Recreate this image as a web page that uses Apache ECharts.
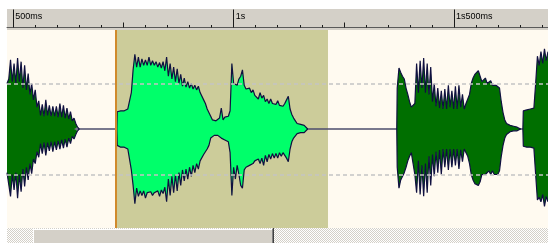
<!DOCTYPE html>
<html>
<head>
<meta charset="utf-8">
<script src="https://cdn.jsdelivr.net/npm/echarts@6/dist/echarts.min.js"></script>
<style>
  html, body { margin: 0; padding: 0; background: #ffffff; }
  #container { width: 548px; height: 243px; }
</style>
</head>
<body>
<div id="container"></div>
<script>
var dom = document.getElementById('container');
var myChart = echarts.init(dom, null, { renderer: 'canvas' });

// time window shown (ms)
const viewStart = 486;
const viewEnd = 1713;

// selection (ms)
const selStart = 733;
const selEnd = 1214;

// ruler
const majorTicks = [500, 1000, 1500];
const majorLabels = ['500ms', '1s', '1s500ms'];
const midTicks = [750, 1250];
const minorTicks = [550, 600, 650, 700, 800, 850, 900, 950, 1050, 1100, 1150, 1200,
  1300, 1350, 1400, 1450, 1550, 1600, 1650, 1700];

// -6 dB guide lines
const guideLevels = [0.5, -0.5];

// waveform envelope, segment A (before selection)
const segATimes = [486, 490, 494, 498, 502, 506, 510, 514, 518, 522, 526, 530, 534, 538, 542, 546,
  550, 554, 558, 562, 566, 570, 574, 578, 582, 586, 590, 594, 598, 602, 606, 610, 614, 618, 622,
  626, 630, 634, 638, 642, 646, 650];
const segAHigh = [0.50, 0.55, 0.76, 0.52, 0.72, 0.50, 0.78, 0.52, 0.74, 0.45, 0.70, 0.43, 0.61, 0.38,
  0.50, 0.32, 0.43, 0.24, 0.31, 0.15, 0.27, 0.14, 0.32, 0.15, 0.26, 0.14, 0.25, 0.14, 0.25, 0.13,
  0.28, 0.13, 0.26, 0.12, 0.23, 0.11, 0.19, 0.09, 0.12, 0.06, 0.02, 0];
const segALow = [-0.48, -0.50, -0.74, -0.50, -0.67, -0.48, -0.76, -0.50, -0.69, -0.44, -0.63, -0.42,
  -0.56, -0.38, -0.49, -0.33, -0.38, -0.25, -0.31, -0.16, -0.27, -0.15, -0.29, -0.15, -0.24, -0.14,
  -0.25, -0.14, -0.23, -0.13, -0.22, -0.12, -0.21, -0.11, -0.20, -0.10, -0.16, -0.08, -0.11, -0.06,
  -0.02, 0];

// segment B (selected)
const segBTimes = [735, 736, 740, 744, 748, 752, 756, 760, 764, 768, 772, 776, 780, 784, 788, 792,
  796, 800, 804, 808, 812, 816, 820, 824, 828, 832, 836, 840, 844, 848, 852, 856, 860, 864, 868,
  872, 876, 880, 884, 888, 892, 896, 900, 904, 908, 912, 916, 920, 924, 928, 932, 936, 940, 944,
  948, 952, 956, 960, 964, 968, 972, 976, 980, 984, 988, 992, 996, 1000, 1004, 1008, 1012, 1016,
  1020, 1024, 1028, 1032, 1036, 1040, 1044, 1048, 1052, 1056, 1060, 1064, 1068, 1072, 1076, 1080,
  1084, 1088, 1092, 1096, 1100, 1104, 1108, 1112, 1116, 1120, 1124, 1128, 1132, 1136, 1140, 1144,
  1148, 1152, 1156, 1160, 1164, 1168];
const segBHigh = [0,
  0.19, 0.21, 0.20, 0.21, 0.20, 0.21, 0.22, 0.24, 0.40, 0.65,
  0.82, 0.68, 0.79, 0.68, 0.77, 0.70, 0.76, 0.70, 0.79, 0.70,
  0.75, 0.70, 0.74, 0.68, 0.73, 0.67, 0.74, 0.64, 0.79, 0.58,
  0.72, 0.55, 0.68, 0.52, 0.66, 0.50, 0.60, 0.47, 0.56, 0.46,
  0.52, 0.45, 0.50, 0.44, 0.48, 0.43, 0.47, 0.40, 0.40, 0.32,
  0.28, 0.22, 0.20, 0.14, 0.10, 0.08, 0.09, 0.07, 0.12, 0.23,
  0.10, 0.13, 0.15, 0.14, 0.20, 0.72, 0.50, 0.52, 0.48, 0.55,
  0.58, 0.65, 0.48, 0.44, 0.42, 0.45, 0.40, 0.43, 0.37, 0.39,
  0.33, 0.40, 0.34, 0.37, 0.30, 0.33, 0.28, 0.33, 0.28, 0.30,
  0.27, 0.31, 0.26, 0.28, 0.25, 0.28, 0.32, 0.36, 0.22, 0.16,
  0.12, 0.09, 0.06, 0.04, 0.05, 0.03, 0.04, 0.02, 0];
const segBLow = [0,
  -0.18, -0.20, -0.20, -0.21, -0.20, -0.21, -0.22, -0.24, -0.45, -0.62,
  -0.82, -0.65, -0.74, -0.68, -0.73, -0.68, -0.76, -0.70, -0.72, -0.69,
  -0.73, -0.70, -0.72, -0.68, -0.74, -0.67, -0.71, -0.64, -0.80, -0.55,
  -0.73, -0.52, -0.70, -0.50, -0.68, -0.48, -0.62, -0.45, -0.57, -0.44,
  -0.55, -0.42, -0.52, -0.40, -0.48, -0.38, -0.44, -0.35, -0.34, -0.28,
  -0.30, -0.22, -0.18, -0.10, -0.09, -0.07, -0.08, -0.07, -0.09, -0.10,
  -0.08, -0.12, -0.14, -0.14, -0.26, -0.73, -0.42, -0.55, -0.40, -0.50,
  -0.62, -0.65, -0.45, -0.42, -0.40, -0.40, -0.38, -0.38, -0.35, -0.36,
  -0.33, -0.38, -0.32, -0.40, -0.29, -0.36, -0.28, -0.33, -0.27, -0.32,
  -0.27, -0.32, -0.26, -0.30, -0.26, -0.28, -0.32, -0.36, -0.22, -0.14,
  -0.10, -0.08, -0.05, -0.04, -0.04, -0.03, -0.04, -0.02, 0];

// segment C (after selection)
const segCTimes = [1370, 1371, 1375, 1379, 1383, 1387, 1391, 1395, 1399, 1403, 1407, 1411, 1415,
  1419, 1423, 1427, 1431, 1435, 1439, 1443, 1447, 1451, 1455, 1459, 1463, 1467, 1471, 1475, 1479,
  1483, 1487, 1491, 1495, 1499, 1503, 1507, 1511, 1515, 1519, 1523, 1527, 1531, 1535, 1539, 1543,
  1547, 1551, 1555, 1559, 1563, 1567, 1571, 1575, 1579, 1583, 1587, 1591, 1595, 1599, 1603, 1607,
  1611, 1615, 1619, 1623, 1627, 1631, 1635, 1639, 1643, 1647, 1651];
const segCHigh = [0,
  0.45, 0.67, 0.62, 0.58, 0.55, 0.45, 0.38, 0.30, 0.24, 0.22,
  0.28, 0.72, 0.40, 0.75, 0.45, 0.78, 0.40, 0.72, 0.38, 0.68,
  0.30, 0.50, 0.25, 0.45, 0.23, 0.42, 0.22, 0.44, 0.22, 0.48,
  0.24, 0.42, 0.22, 0.47, 0.22, 0.48, 0.24, 0.38, 0.22, 0.28,
  0.28, 0.38, 0.50, 0.56, 0.60, 0.62, 0.64, 0.58, 0.52, 0.50,
  0.56, 0.50, 0.48, 0.53, 0.48, 0.50, 0.48, 0.48, 0.45, 0.30,
  0.18, 0.10, 0.06, 0.05, 0.04, 0.03, 0.03, 0.02, 0.02, 0.02, 0];
const segCLow = [0,
  -0.42, -0.65, -0.56, -0.55, -0.48, -0.42, -0.35, -0.30, -0.26, -0.25,
  -0.50, -0.70, -0.35, -0.72, -0.40, -0.74, -0.38, -0.70, -0.30, -0.62,
  -0.28, -0.52, -0.25, -0.48, -0.23, -0.50, -0.22, -0.42, -0.22, -0.45,
  -0.22, -0.42, -0.22, -0.40, -0.22, -0.44, -0.23, -0.36, -0.22, -0.26,
  -0.30, -0.38, -0.50, -0.56, -0.60, -0.62, -0.62, -0.58, -0.50, -0.52,
  -0.50, -0.48, -0.46, -0.50, -0.46, -0.50, -0.48, -0.50, -0.46, -0.30,
  -0.18, -0.10, -0.06, -0.04, -0.03, -0.03, -0.02, -0.02, -0.02, -0.02, 0];

// segment D (next word, cut at the right edge)
const segDTimes = [1656, 1657, 1661, 1665, 1669, 1673, 1677, 1681, 1685, 1689, 1693, 1697, 1701,
  1705, 1709, 1713];
const segDHigh = [0, 0.20, 0.21, 0.21, 0.21, 0.22, 0.22, 0.23, 0.50, 0.80, 0.70, 0.85, 0.72, 0.88,
  0.75, 0.85];
const segDLow = [0, -0.19, -0.20, -0.20, -0.20, -0.20, -0.21, -0.21, -0.50, -0.78, -0.75, -0.80,
  -0.72, -0.85, -0.74, -0.80];

const waveDark = '#006f00';
const waveBright = '#00ff6a';
const waveEdge = '#101040';

function waveSeries(times, values, fill) {
  return {
    type: 'line',
    xAxisIndex: 0,
    yAxisIndex: 0,
    z: 3,
    symbol: 'none',
    silent: true,
    data: times.map((t, i) => [t, values[i]]),
    lineStyle: { color: waveEdge, width: 1.2 },
    areaStyle: { color: fill, opacity: 1 },
  };
}

// dithered scrollbar track
var dither = document.createElement('canvas');
dither.width = 2;
dither.height = 2;
var dctx = dither.getContext('2d');
dctx.fillStyle = '#ffffff';
dctx.fillRect(0, 0, 2, 2);
dctx.fillStyle = '#d4d0c8';
dctx.fillRect(0, 0, 1, 1);
dctx.fillRect(1, 1, 1, 1);

var option;

option = {
  animation: false,
  backgroundColor: '#ffffff',
  grid: [
    { left: 7, right: 0, top: 30, bottom: 15, show: true, backgroundColor: '#fffaf0', borderWidth: 0 },
    { left: 7, right: 0, top: 9, height: 18.5, show: false }
  ],
  graphic: [
    { type: 'rect', z: -1, shape: { x: 7, y: 9, width: 541, height: 21 }, style: { fill: '#d4d0c8' } },
    { type: 'rect', shape: { x: 7, y: 228, width: 541, height: 15 },
      style: { fill: { image: dither, repeat: 'repeat' } } },
    { type: 'rect', shape: { x: 33, y: 229, width: 241, height: 14 },
      style: { fill: '#d4d0c8' } },
    { type: 'line', shape: { x1: 33, y1: 229.5, x2: 273, y2: 229.5 }, style: { stroke: '#ffffff', lineWidth: 1 } },
    { type: 'line', shape: { x1: 33.5, y1: 229, x2: 33.5, y2: 243 }, style: { stroke: '#ffffff', lineWidth: 1 } },
    { type: 'line', shape: { x1: 273.5, y1: 228, x2: 273.5, y2: 243 }, style: { stroke: '#404040', lineWidth: 1 } },
    { type: 'line', shape: { x1: 272.5, y1: 229, x2: 272.5, y2: 243 }, style: { stroke: '#808080', lineWidth: 1 } }
  ],
  xAxis: [
    { gridIndex: 0, type: 'value', min: viewStart, max: viewEnd, show: false },
    {
      gridIndex: 1, type: 'value', min: viewStart, max: viewEnd, position: 'bottom',
      axisLine: { show: true, lineStyle: { color: '#5a5a5a', width: 1 } },
      axisTick: { show: true, inside: true, length: 18, customValues: majorTicks,
        lineStyle: { color: '#1a1a1a', width: 1 } },
      axisLabel: {
        show: true, inside: true, customValues: majorTicks,
        formatter: v => majorLabels[majorTicks.indexOf(v)],
        align: 'left', verticalAlign: 'middle', margin: 11, padding: [0, 0, 0, 2],
        fontFamily: 'Liberation Sans', fontSize: 9, color: '#000000'
      },
      splitLine: { show: false }
    },
    {
      gridIndex: 1, type: 'value', min: viewStart, max: viewEnd, position: 'bottom',
      axisLine: { show: false },
      axisTick: { show: true, inside: true, length: 5, customValues: midTicks,
        lineStyle: { color: '#1a1a1a', width: 1 } },
      axisLabel: { show: false },
      splitLine: { show: false }
    },
    {
      gridIndex: 1, type: 'value', min: viewStart, max: viewEnd, position: 'bottom',
      axisLine: { show: false },
      axisTick: { show: true, inside: true, length: 2.5, customValues: minorTicks,
        lineStyle: { color: '#1a1a1a', width: 1 } },
      axisLabel: { show: false },
      splitLine: { show: false }
    }
  ],
  yAxis: [
    { gridIndex: 0, type: 'value', min: -1.088, max: 1.088, show: false },
    { gridIndex: 1, type: 'value', min: 0, max: 1, show: false }
  ],
  series: [
    {
      // selection band, cursor and guide lines
      type: 'line',
      z: 1,
      silent: true,
      symbol: 'none',
      data: [[viewStart, 0]],
      lineStyle: { width: 0 },
      markArea: {
        silent: true,
        itemStyle: { color: '#cccc9a' },
        data: [[{ xAxis: selStart }, { xAxis: selEnd }]]
      },
      markLine: {
        silent: true,
        symbol: 'none',
        label: { show: false },
        data: [
          { yAxis: guideLevels[0], lineStyle: { color: '#c4c4c4', type: [4, 3], width: 1.5 } },
          { yAxis: guideLevels[1], lineStyle: { color: '#c4c4c4', type: [4, 3], width: 1.5 } },
          { xAxis: selStart, lineStyle: { color: '#d08a2c', type: 'solid', width: 2 } }
        ]
      }
    },
    {
      // zero line
      type: 'line',
      z: 2,
      silent: true,
      symbol: 'none',
      data: [[viewStart, 0], [viewEnd, 0]],
      lineStyle: { color: '#4c4c6c', width: 1.5 }
    },
    waveSeries(segATimes, segAHigh, waveDark),
    waveSeries(segATimes, segALow, waveDark),
    waveSeries(segBTimes, segBHigh, waveBright),
    waveSeries(segBTimes, segBLow, waveBright),
    waveSeries(segCTimes, segCHigh, waveDark),
    waveSeries(segCTimes, segCLow, waveDark),
    waveSeries(segDTimes, segDHigh, waveDark),
    waveSeries(segDTimes, segDLow, waveDark)
  ]
};

if (option && typeof option === 'object') {
  myChart.setOption(option);
}

window.addEventListener('resize', myChart.resize);
</script>
</body>
</html>
